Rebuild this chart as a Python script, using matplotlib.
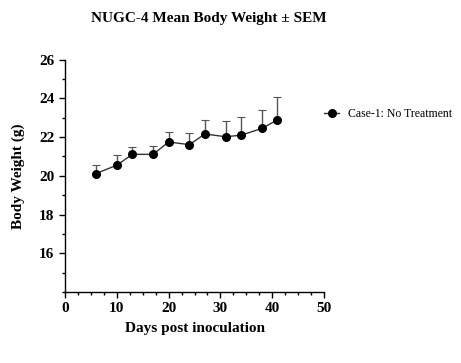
import numpy as np
import matplotlib
matplotlib.use('Agg')
import matplotlib.pyplot as plt
from matplotlib.ticker import MultipleLocator

plt.rcParams['font.family'] = ['Liberation Serif', 'DejaVu Serif']

days = [6, 10, 13, 17, 20, 24, 27, 31, 34, 38, 41]
mean_bw = [20.12, 20.55, 21.11, 21.11, 21.75, 21.61, 22.16, 22.02, 22.10, 22.45, 22.89]
sem_bw = [0.42, 0.51, 0.37, 0.44, 0.51, 0.58, 0.73, 0.79, 0.92, 0.96, 1.18]
series_name = 'Case-1: No Treatment'

fig = plt.figure(figsize=(4.61, 3.63), dpi=100)
ax = fig.add_axes([0.141, 0.1956, 0.562, 0.64])

ax.errorbar(days, mean_bw, yerr=[np.zeros(len(sem_bw)), sem_bw],
            fmt='none', ecolor='#555555', elinewidth=1, capsize=3, capthick=0.8)
ax.plot(days, mean_bw, color='#333333', lw=1, marker='o', ms=5.5,
        mfc='black', mec='black', label=series_name)

ax.set_xlim(0, 50)
ax.set_ylim(14, 26)
ax.xaxis.set_major_locator(MultipleLocator(10))
ax.xaxis.set_minor_locator(MultipleLocator(2.5))
ax.set_yticks([16, 18, 20, 22, 24, 26])
ax.yaxis.set_minor_locator(MultipleLocator(1))
ax.tick_params(which='major', length=4, width=1, labelsize=11)
ax.tick_params(which='minor', length=2.5, width=1)
for lab in ax.get_xticklabels() + ax.get_yticklabels():
    lab.set_fontweight('bold')

for s in ['top', 'right']:
    ax.spines[s].set_visible(False)
for s in ['left', 'bottom']:
    ax.spines[s].set_linewidth(1)

ax.set_xlabel('Days post inoculation', fontsize=11, fontweight='bold', labelpad=5)
ax.set_ylabel('Body Weight (g)', fontsize=11, fontweight='bold', labelpad=10)
fig.text(0.453, 0.95, 'NUGC-4 Mean Body Weight \u00b1 SEM', ha='center', va='center',
         fontsize=11, fontweight='bold')

ax.legend(loc='center left', bbox_to_anchor=(1.0, 0.766), frameon=False,
          fontsize=8.5, handlelength=1.3, handletextpad=0.7,
          borderpad=0, borderaxespad=0)

fig.savefig('out.png', dpi=100)
